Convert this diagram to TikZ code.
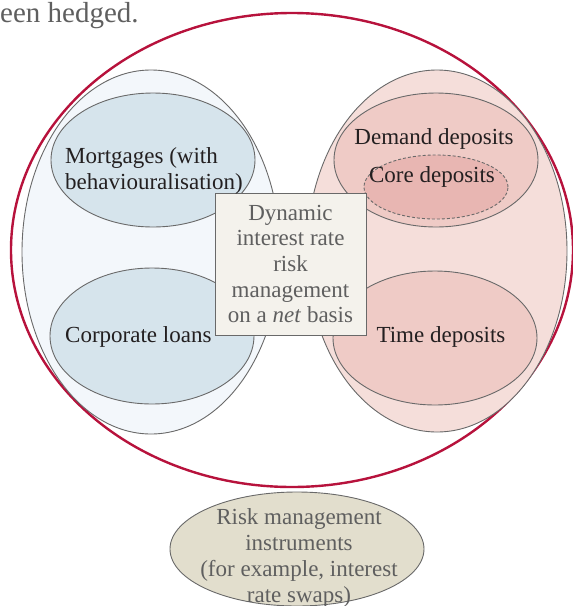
\documentclass[tikz,border=0pt]{standalone}
\usepackage{fontspec}
\setmainfont{Liberation Serif}
\usetikzlibrary{shapes.geometric}

\definecolor{rimred}{RGB}{183,18,60}
\definecolor{edgegrey}{RGB}{105,105,105}
\definecolor{assetout}{RGB}{243,247,251}
\definecolor{assetin}{RGB}{214,228,236}
\definecolor{liabout}{RGB}{245,222,218}
\definecolor{liabin}{RGB}{239,203,198}
\definecolor{corefill}{RGB}{232,182,178}
\definecolor{boxfill}{RGB}{244,242,236}
\definecolor{instrfill}{RGB}{226,222,205}
\definecolor{textgrey}{RGB}{95,95,95}
\definecolor{textdark}{RGB}{35,31,32}

\tikzset{
  blob/.style={ellipse, draw=edgegrey, line width=0.9pt, inner sep=0pt},
  lbl/.style={text=textdark, font=\fontsize{23}{25.7}\selectfont, inner sep=0pt},
  greylbl/.style={text=textgrey, font=\fontsize{23}{25.7}\selectfont, align=center, inner sep=0pt}
}

\begin{document}
\begin{tikzpicture}[x=1pt,y=-1pt]
      \useasboundingbox (0,0) rectangle (573,606);

      % running text of the page above
      \node[anchor=base west, text=textgrey, font=\fontsize{29}{32}\selectfont, inner sep=0pt] (hedged) at (0,22.5) {een hedged.};

      % the bank
      \node[ellipse, draw=rimred, line width=2.4pt, fill=white, minimum width=562pt, minimum height=474pt] (bank) at (292,250) {};

      % assets and liabilities
      \node[blob, fill=assetout, minimum width=258pt, minimum height=364pt] (assets) at (151,252) {};
      \node[blob, fill=liabout, minimum width=260pt, minimum height=362pt] (liabs) at (437,251) {};

      \node[blob, fill=assetin, minimum width=204pt, minimum height=134pt] (mortg) at (153,160) {};
      \node[blob, fill=assetin, minimum width=204pt, minimum height=136pt] (corp) at (152,336) {};
      \node[blob, fill=liabin, minimum width=204pt, minimum height=134pt] (demand) at (436,160) {};
      \node[blob, fill=corefill, dashed, dash pattern=on 3pt off 2pt, minimum width=144pt, minimum height=64pt] (core) at (436,187) {};
      \node[blob, fill=liabin, minimum width=204pt, minimum height=134pt] (time) at (435,338) {};

      % net basis box
      \node[greylbl, draw=edgegrey, fill=boxfill, line width=0.9pt, minimum width=151pt, minimum height=142pt] (dirm) at (290.5,264)
        {Dynamic\\interest rate\\risk\\management\\on a \textit{net} basis};

      \node[lbl, align=left, anchor=west] (mortgtxt) at (65,171) {Mortgages (with\\behaviouralisation)};
      \node[lbl, anchor=base west] (corptxt) at (65,342) {Corporate loans};
      \node[lbl, anchor=base] (demandtxt) at (434,144) {Demand deposits};
      \node[lbl, anchor=base] (coretxt) at (432,182) {Core deposits};
      \node[lbl, anchor=base] (timetxt) at (441,342) {Time deposits};

      % instruments
      \node[blob, fill=instrfill, minimum width=254pt, minimum height=114pt] (instr) at (297,549) {};
      \node[greylbl] (instrtxt) at (299,558)
        {Risk management\\instruments\\(for example, interest\\rate swaps)};
    \end{tikzpicture}
\end{document}
